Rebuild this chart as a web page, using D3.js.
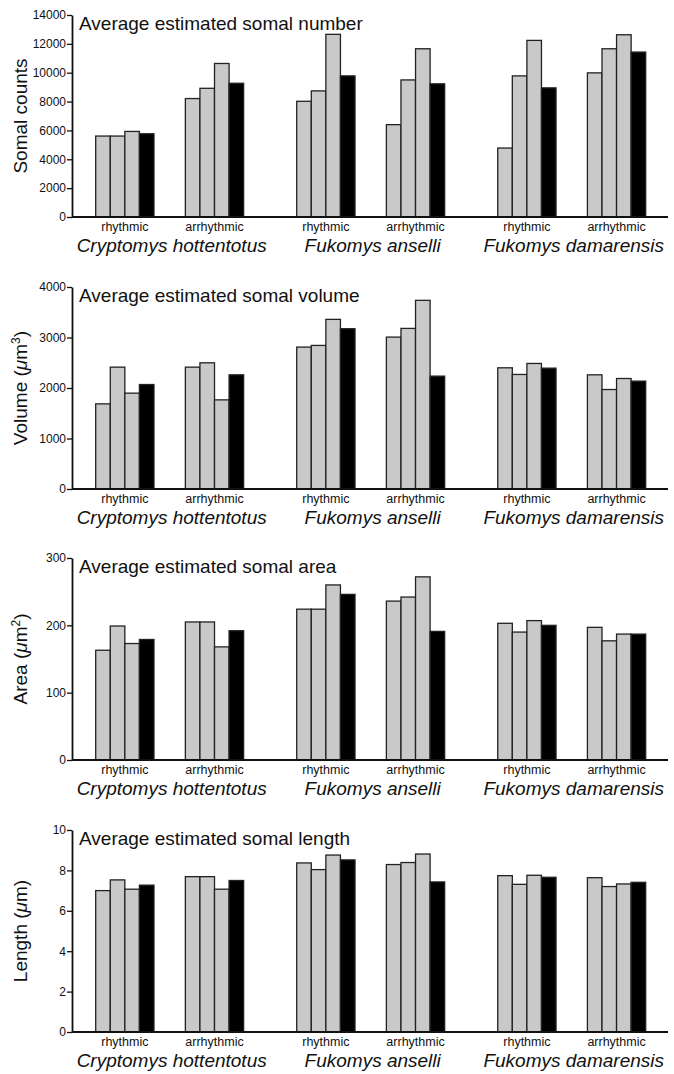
<!DOCTYPE html>
<html>
<head>
<meta charset="utf-8">
<script src="https://cdn.jsdelivr.net/npm/d3@7"></script>
<style>
  html, body { margin: 0; padding: 0; background: #fff; }
  svg { display: block; font-family: "Liberation Sans", Arial, Helvetica, sans-serif; }
</style>
</head>
<body>
<svg id="chart" width="674" height="1074"></svg>
<script>
// ---- data ----
const species = ["Cryptomys hottentotus", "Fukomys anselli", "Fukomys damarensis"];
const conditions = ["rhythmic", "arrhythmic"];
const barKeys = ["a", "b", "c", "mean"]; // three individuals (gray) + mean (black)

const titles = [
  "Average estimated somal number",
  "Average estimated somal volume",
  "Average estimated somal area",
  "Average estimated somal length"
];

// values per group: [species][condition] -> 4 bars
const numberValues = [
  [[5610, 5610, 5930, 5770], [8210, 8920, 10640, 9270]],
  [[8020, 8740, 12660, 9780], [6400, 9500, 11660, 9230]],
  [[4780, 9780, 12240, 8950], [9990, 11660, 12630, 11430]]
];
const volumeValues = [
  [[1686, 2413, 1898, 2069], [2413, 2499, 1765, 2261]],
  [[2810, 2843, 3359, 3174], [3008, 3180, 3736, 2235]],
  [[2400, 2268, 2486, 2393], [2261, 1970, 2188, 2136]]
];
const areaValues = [
  [[163, 199, 173, 179], [205, 205, 168, 192]],
  [[224, 224, 260, 246], [236, 242, 272, 191]],
  [[203, 190, 207, 200], [197, 177, 187, 187]]
];
const lengthValues = [
  [[7.00, 7.53, 7.07, 7.27], [7.69, 7.69, 7.07, 7.50]],
  [[8.37, 8.04, 8.76, 8.52], [8.29, 8.39, 8.81, 7.43]],
  [[7.74, 7.31, 7.76, 7.66], [7.64, 7.20, 7.33, 7.41]]
];

const yMax = [14000, 4000, 300, 10];
const tickValues = [
  [0, 2000, 4000, 6000, 8000, 10000, 12000, 14000],
  [0, 1000, 2000, 3000, 4000],
  [0, 100, 200, 300],
  [0, 2, 4, 6, 8, 10]
];
const yLabels = [
  [{t: "Somal counts"}],
  [{t: "Volume ("}, {t: "μ", i: true}, {t: "m"}, {t: "3", sup: true}, {t: ")"}],
  [{t: "Area ("}, {t: "μ", i: true}, {t: "m"}, {t: "2", sup: true}, {t: ")"}],
  [{t: "Length ("}, {t: "μ", i: true}, {t: "m)"}]
];
const panelValues = [numberValues, volumeValues, areaValues, lengthValues];

// ---- layout ----
const svg = d3.select("#chart");
const axisX = 72;
const axisRight = 668;
const panelTops = [15, 287, 558, 830];
const plotH = 202;

const xSpecies = d3.scaleBand().domain(species).range([95.7, 645.7]).paddingInner(0.264).paddingOuter(0);
const xCond = d3.scaleBand().domain(conditions).range([0, xSpecies.bandwidth()]).paddingInner(0.35).paddingOuter(0);
const xBar = d3.scaleBand().domain(barKeys).range([0, xCond.bandwidth()]).padding(0);

panelValues.forEach((vals, p) => {
  const top = panelTops[p];
  const bottom = top + plotH;
  const y = d3.scaleLinear().domain([0, yMax[p]]).range([bottom, top]);
  const g = svg.append("g");

  // bars
  species.forEach((sp, si) => {
    conditions.forEach((cond, ci) => {
      const x0 = xSpecies(sp) + xCond(cond);
      barKeys.forEach((k, bi) => {
        const v = vals[si][ci][bi];
        g.append("rect")
          .attr("x", x0 + xBar(k))
          .attr("y", y(v))
          .attr("width", xBar.bandwidth())
          .attr("height", bottom - y(v))
          .attr("fill", k === "mean" ? "#000" : "#c9c9c9")
          .attr("stroke", "#222")
          .attr("stroke-width", 1.3);
      });
      // condition label
      g.append("text")
        .attr("x", x0 + xCond.bandwidth() / 2)
        .attr("y", bottom + 13.5)
        .attr("text-anchor", "middle")
        .attr("font-size", 12.5)
        .attr("fill", "#111")
        .text(cond);
    });
    // species label
    g.append("text")
      .attr("x", xSpecies(sp) + xSpecies.bandwidth() / 2 + 2)
      .attr("y", bottom + 35)
      .attr("text-anchor", "middle")
      .attr("font-size", 19)
      .attr("font-style", "italic")
      .attr("fill", "#111")
      .text(sp);
  });

  // y axis
  const yAxis = d3.axisLeft(y).tickValues(tickValues[p]).tickSize(5).tickSizeOuter(0).tickPadding(1)
    .tickFormat(d3.format("d"));
  const ag = g.append("g").attr("transform", `translate(${axisX},0)`).call(yAxis);
  ag.select(".domain").attr("stroke", "#111").attr("stroke-width", 1.8);
  ag.selectAll(".tick line").attr("stroke", "#111").attr("stroke-width", 1.3);
  ag.selectAll(".tick text").attr("font-size", 12).attr("fill", "#111")
    .attr("font-family", "'Liberation Sans', Arial, sans-serif");

  // x baseline
  g.append("line")
    .attr("x1", axisX).attr("x2", axisRight)
    .attr("y1", bottom).attr("y2", bottom)
    .attr("stroke", "#111").attr("stroke-width", 2);

  // title
  g.append("text")
    .attr("x", 79)
    .attr("y", top + 14.5)
    .attr("font-size", 19)
    .attr("fill", "#111")
    .text(titles[p]);

  // y label
  const yl = g.append("text")
    .attr("transform", `translate(27,${(top + bottom) / 2}) rotate(-90)`)
    .attr("text-anchor", "middle")
    .attr("font-size", 19)
    .attr("fill", "#111");
  yLabels[p].forEach(part => {
    const ts = yl.append("tspan").text(part.t);
    if (part.i) ts.attr("font-style", "italic");
    if (part.sup) ts.attr("font-size", 12).attr("dy", -7);
    else if (part.t.startsWith(")")) ts.attr("dy", 7);
  });
});
</script>
</body>
</html>
